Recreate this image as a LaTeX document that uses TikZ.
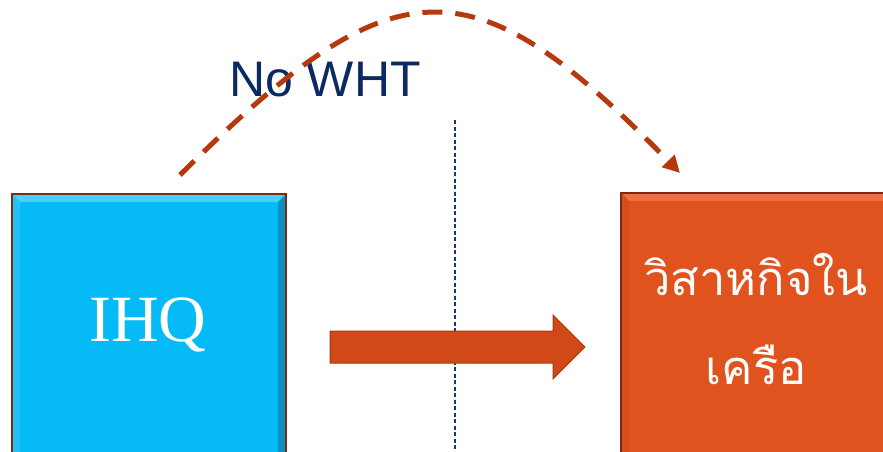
\documentclass[tikz,border=0pt]{standalone}
\usepackage{fontspec}
\setmainfont{Liberation Serif}
\newfontfamily\sansf{Liberation Sans}
\newfontfamily\thaifont[Script=Thai]{Loma}
\usetikzlibrary{arrows.meta}
\definecolor{bluemain}{HTML}{05BAF5}
\definecolor{bluetop}{HTML}{45D2FA}
\definecolor{blueleft}{HTML}{22C2F5}
\definecolor{blueright}{HTML}{0892C0}
\definecolor{bluebot}{HTML}{067FA8}
\definecolor{orgmain}{HTML}{E0521E}
\definecolor{orgtop}{HTML}{EE7040}
\definecolor{orgleft}{HTML}{D94C1B}
\definecolor{orgright}{HTML}{B53E12}
\definecolor{orgbot}{HTML}{A5380F}
\definecolor{boxedge}{HTML}{7A2C12}
\definecolor{arrowfill}{HTML}{D14917}
\definecolor{arrowedge}{HTML}{A8380F}
\definecolor{curvecol}{HTML}{B5390D}
\definecolor{navytext}{HTML}{0B2A62}
\definecolor{divcol}{HTML}{1A3570}
\newcommand{\bevelbox}[5]{%
  \fill[#5top] (#1,#2) -- (#3,#2) -- (#3-8,#2+8) -- (#1+8,#2+8) -- cycle;
  \fill[#5left] (#1,#2) -- (#1+8,#2+8) -- (#1+8,#4-8) -- (#1,#4) -- cycle;
  \fill[#5right] (#3,#2) -- (#3,#4) -- (#3-8,#4-8) -- (#3-8,#2+8) -- cycle;
  \fill[#5bot] (#1,#4) -- (#3,#4) -- (#3-8,#4-8) -- (#1+8,#4-8) -- cycle;
  \draw[boxedge, line width=1.2pt] (#1,#2) rectangle (#3,#4);
}
\tikzset{
  boxbody/.style={rectangle, inner sep=0pt, line width=0pt},
  boxlabel/.style={inner sep=0pt, text=white},
}
\begin{document}
\begin{tikzpicture}[x=1pt,y=-1pt]
\useasboundingbox (0,0) rectangle (883,452);
\clip (0,0) rectangle (883,452);
% left box
\node[boxbody, fill=bluemain, minimum width=274pt, minimum height=276pt] (ihq) at (149,332) {};
\bevelbox{12}{194}{286}{470}{blue}
\node[boxlabel, anchor=base, font=\fontsize{66}{70}\selectfont] (ihqtext) at (148,341) {IHQ};
% right box
\node[boxbody, fill=orgmain, minimum width=279pt, minimum height=277pt] (ent) at (760.5,331.5) {};
\bevelbox{621}{193}{900}{470}{org}
\node[boxlabel, anchor=base, font=\thaifont\fontsize{47}{50}\selectfont] (entone) at (756,295) {วิสาหกิจใน};
\node[boxlabel, anchor=base, font=\thaifont\fontsize{47}{50}\selectfont] (enttwo) at (756,384) {เครือ};
% divider
\coordinate (divtop) at (455,120);
\coordinate (divbot) at (455,452);
\draw[divcol, line width=1.3pt, dash pattern=on 4pt off 2.5pt] (divtop) -- (divbot);
% big arrow
\draw[fill=arrowfill, draw=arrowedge, line width=1pt, line join=miter]
  (330,331) -- (553,331) -- (553,315) -- (585,347) -- (553,379) -- (553,363) -- (330,363) -- cycle;
% label
\node[anchor=base west, inner sep=0pt, text=navytext, font=\sansf\fontsize{50}{60}\selectfont] (nowht) at (229,96) {No WHT};
% dashed curve
\coordinate (cs) at (180,175);
\coordinate (ce) at (680,173);
\draw[curvecol, line width=5pt, dash pattern=on 20pt off 13pt, -{Triangle[length=17pt,width=17pt]}]
  (cs) .. controls (396,-40) and (472,-40) .. (ce);
\end{tikzpicture}
\end{document}
